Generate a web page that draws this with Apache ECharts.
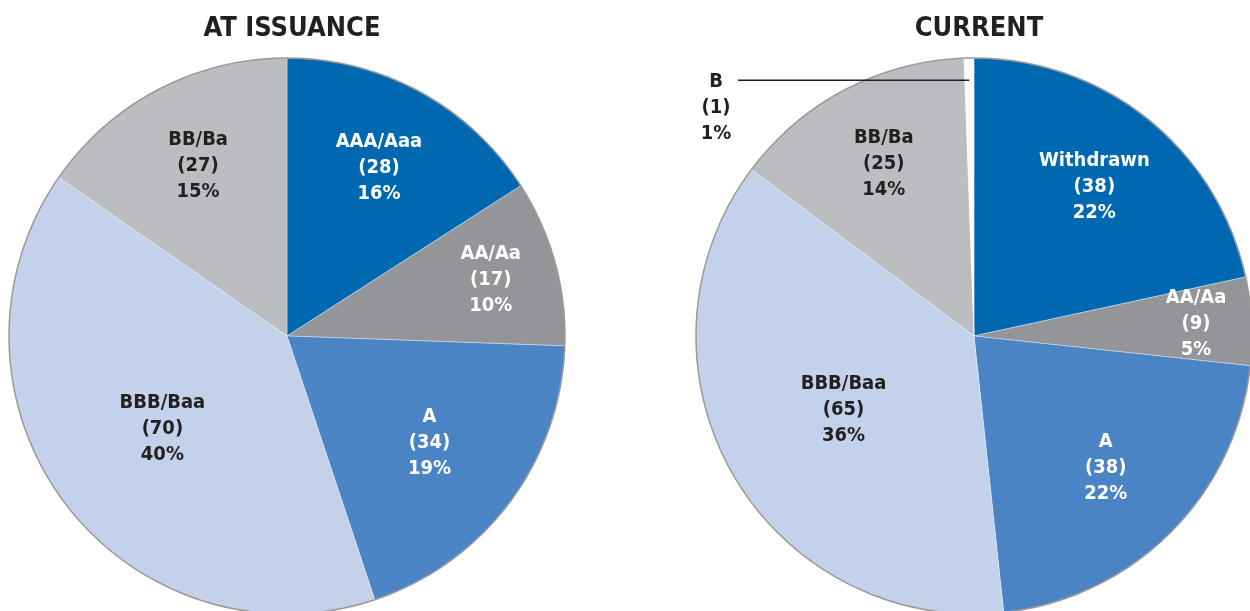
<!DOCTYPE html>
<html lang="en">

<head>
    <meta charset="UTF-8">
    <title>Ratings at issuance vs current</title>
    <script src="https://cdn.jsdelivr.net/npm/echarts@6/dist/echarts.min.js"></script>
    <style>
        body {
            margin: 0;
            background: #fff;
        }

        #chart {
            width: 1250px;
            height: 611px;
        }
    </style>
</head>

<body>
    <div id="chart"></div>

    <script>
        // data
        const issuanceNames = ['AAA/Aaa', 'AA/Aa', 'A', 'BBB/Baa', 'BB/Ba'];
        const issuanceCounts = [28, 17, 34, 70, 27];
        const issuancePct = [16, 10, 19, 40, 15];

        const currentNames = ['Withdrawn', 'AA/Aa', 'A', 'BBB/Baa', 'BB/Ba', 'B'];
        const currentCounts = [38, 9, 38, 65, 25, 1];
        const currentPct = [22, 5, 22, 36, 14, 1];

        const titles = ['AT ISSUANCE', 'CURRENT'];

        // styling
        const FONT = "'Liberation Sans Narrow', 'DejaVu Sans Condensed', 'Roboto', sans-serif";
        const DARK = '#231f20';
        const colorMap = {
            'AAA/Aaa': '#0067b1',
            'Withdrawn': '#0067b1',
            'AA/Aa': '#939598',
            'A': '#4b84c4',
            'BBB/Baa': '#c3d1ea',
            'BB/Ba': '#bcbdc0',
            'B': '#ffffff'
        };
        const whiteText = ['AAA/Aaa', 'Withdrawn', 'AA/Aa', 'A'];

        const R = 278;
        const centers = [[287, 336], [974, 336]];
        // how far out (fraction of radius) each label sits
        const labelFrac = [
            [0.69, 0.76, 0.64, 0.56, 0.69],
            [0.69, 0.80, 0.67, 0.54, 0.70, 0]
        ];

        const allNames = [issuanceNames, currentNames];
        const allCounts = [issuanceCounts, currentCounts];
        const allPct = [issuancePct, currentPct];

        function midAngles(counts) {
            const total = counts.reduce((a, b) => a + b, 0);
            let acc = 0;
            return counts.map(v => {
                const m = (acc + v / 2) / total * Math.PI * 2;
                acc += v;
                return m;
            });
        }
        const mids = allCounts.map(midAngles);

        const labelBase = {
            show: true,
            position: 'inside',
            fontFamily: FONT,
            fontWeight: 'bold',
            fontSize: 20,
            lineHeight: 26,
            align: 'center'
        };

        function labelText(s) {
            return p => p.name + '\n(' + p.value + ')\n' + allPct[s][p.dataIndex] + '%';
        }

        function pieSeries(s) {
            return {
                type: 'pie',
                center: centers[s],
                radius: [0, R],
                startAngle: 90,
                clockwise: true,
                avoidLabelOverlap: false,
                minAngle: 0,
                silent: true,
                animation: false,
                itemStyle: { borderColor: 'rgba(255,255,255,0.45)', borderWidth: 0.8 },
                label: Object.assign({}, labelBase, { formatter: labelText(s) }),
                labelLine: { show: false },
                labelLayout: function (params) {
                    const c = centers[s];
                    const a = mids[s][params.dataIndex];
                    const f = labelFrac[s][params.dataIndex];
                    return {
                        x: c[0] + f * R * Math.sin(a),
                        y: c[1] - f * R * Math.cos(a),
                        align: 'center',
                        verticalAlign: 'middle'
                    };
                },
                data: allNames[s].map((name, i) => ({
                    name: name,
                    value: allCounts[s][i],
                    itemStyle: { color: colorMap[name] },
                    label: {
                        show: name !== 'B',
                        color: whiteText.includes(name) ? '#fff' : DARK
                    }
                }))
            };
        }

        // the tiny 'B' slice gets an outside label with a leader line,
        // drawn from a transparent copy of the pie so the line sits on top
        function bLabelSeries() {
            const s = 1;
            const bi = currentNames.indexOf('B');
            return {
                type: 'pie',
                center: centers[s],
                radius: [0, R],
                startAngle: 90,
                avoidLabelOverlap: false,
                silent: true,
                animation: false,
                z: 5,
                itemStyle: { color: 'transparent' },
                label: Object.assign({}, labelBase, {
                    position: 'outside',
                    color: DARK,
                    formatter: labelText(s)
                }),
                labelLine: { show: true, lineStyle: { color: DARK, width: 1.5 } },
                labelLayout: function (params) {
                    const c = centers[s];
                    const a = mids[s][params.dataIndex];
                    const sx = c[0] + R * 0.93 * Math.sin(a);
                    const sy = c[1] - R * 0.92 * Math.cos(a);
                    return {
                        x: 716, y: 108, align: 'center', verticalAlign: 'middle',
                        labelLinePoints: [[sx, sy], [738, sy], [738, sy]]
                    };
                },
                data: currentNames.map((name, i) => ({
                    name: name,
                    value: currentCounts[i],
                    label: { show: i === bi },
                    labelLine: { show: i === bi }
                }))
            };
        }

        // thin grey outline round each pie
        function outline(s) {
            return {
                type: 'pie',
                center: centers[s],
                radius: [0, R],
                silent: true,
                animation: false,
                label: { show: false },
                labelLine: { show: false },
                itemStyle: { color: 'transparent', borderColor: '#999999', borderWidth: 1.5 },
                data: [{ value: 1, name: 'outline' }],
                z: 3
            };
        }

        const chart = echarts.init(document.getElementById('chart'));
        chart.setOption({
            animation: false,
            title: titles.map((t, s) => ({
                text: t,
                left: centers[s][0],
                top: 10,
                textAlign: 'center',
                textStyle: {
                    fontFamily: FONT,
                    fontWeight: 'bold',
                    fontSize: 27,
                    color: DARK
                }
            })),
            series: [pieSeries(0), pieSeries(1), outline(0), outline(1), bLabelSeries()]
        });
    </script>
</body>

</html>
